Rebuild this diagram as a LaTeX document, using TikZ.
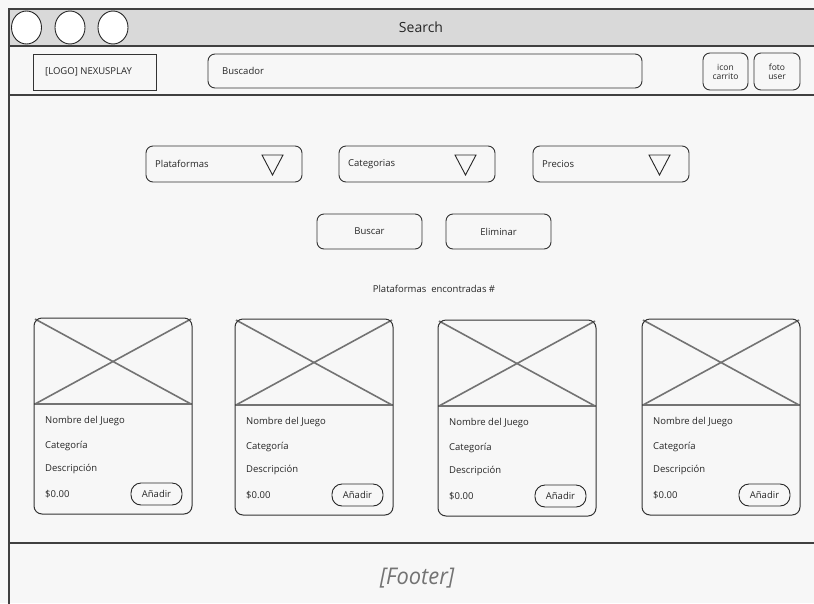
\documentclass[tikz,border=0pt]{standalone}
\usepackage{fontspec}
\setmainfont{Open Sans}
\usetikzlibrary{shapes.geometric}
\begin{document}
\begin{tikzpicture}[x=1pt,y=-1pt,
  frameline/.style={draw=black!75,line width=1.2pt},
  box/.style={draw=black!80,line width=0.9pt,rounded corners=7pt,fill=white!97!black},
  plainbox/.style={draw=black!80,line width=0.9pt},
  lbl/.style={font=\fontsize{9.5}{11}\selectfont,text=black!85,inner sep=0pt},
  tri/.style={draw=black!85,line width=0.9pt},
  cross/.style={draw=black!55,line width=1.6pt},
  card/.style={draw=black!80,line width=1pt,rounded corners=8pt}]
\useasboundingbox (0,0) rectangle (814,603);
\fill[white!97!black] (0,0) rectangle (814,603);

% window frame, title bar and header
\fill[black!15] (9,9) rectangle (820,46);
\fill[white!97!black] (9,46) rectangle (820,95);
\draw[frameline] (820,9) -- (9,9) -- (9,610);
\draw[frameline] (9,46) -- (820,46);
\draw[frameline] (9,95) -- (820,95);
\draw[frameline] (9,543) -- (820,543);

\foreach \cx/\nm in {26.5/c1,70/c2,113/c3}
  \node[draw=black!85,line width=0.9pt,fill=white,ellipse,minimum width=30pt,minimum height=33pt,inner sep=0pt] (\nm) at (\cx,27.5) {};
\node[font=\fontsize{14}{16}\selectfont,text=black!85] (title) at (421,27) {Search};

\draw[plainbox] (33,54) rectangle (156,90);
\node[lbl,anchor=west] (logo) at (45,72) {[LOGO] NEXUSPLAY};
\draw[box] (208,54) rectangle (642,88);
\node[lbl,anchor=west] (buscador) at (222,71) {Buscador};
\draw[box] (703,53) rectangle (748,90);
\node[lbl,align=center,font=\fontsize{8.5}{9}\selectfont] (carrito) at (725.5,71.5) {icon\\carrito};
\draw[box] (754,53) rectangle (800,90);
\node[lbl,align=center,font=\fontsize{8.5}{9}\selectfont] (user) at (777,71.5) {foto\\user};

% filter dropdowns
\foreach \x/\t/\nm in {146/Plataformas/dpla,339/Categorias/dcat,533/Precios/dpre}{
  \draw[box] (\x,146) rectangle ++(156,36);
  \node[lbl,anchor=west] (\nm) at (\x+9,164) {\t};
  \draw[tri] (\x+116,155) -- (\x+137,155) -- (\x+126.5,175) -- cycle;
}

% action buttons
\draw[box] (317,214) rectangle (422,249);
\node[lbl] (buscar) at (369.5,231.5) {Buscar};
\draw[box] (446,214) rectangle (551,249);
\node[lbl] (eliminar) at (498.5,231.5) {Eliminar};

\node[lbl] (found) at (434,289) {Plataformas\ \ encontradas \#};

% product cards
\foreach \x/\y/\nm in {34/318/k1,235/319/k2,438/320/k3,642/319/k4}{
  \begin{scope}[shift={(\x,\y)}]
    \draw[cross] (1,1) -- (157,86) (157,1) -- (1,86);
    \draw[cross] (0,86) -- (158,86);
    \draw[card] (0,0) rectangle (158,196);
    \node[lbl,anchor=west] (\nm n) at (11,103) {Nombre del Juego};
    \node[lbl,anchor=west] (\nm c) at (11,128) {Categoría};
    \node[lbl,anchor=west] (\nm d) at (11,151) {Descripción};
    \node[lbl,anchor=west] (\nm p) at (11,176) {\$0.00};
    \draw[draw=black!85,line width=0.9pt,rounded corners=10pt] (97,165) rectangle (148,187);
    \node[lbl] (\nm a) at (122.5,176) {Añadir};
  \end{scope}
}

% footer
\node[font=\itshape\fontsize{23}{26}\selectfont,text=black!55,xscale=0.95] (footer) at (417,578) {[Footer]};
\end{tikzpicture}
\end{document}
